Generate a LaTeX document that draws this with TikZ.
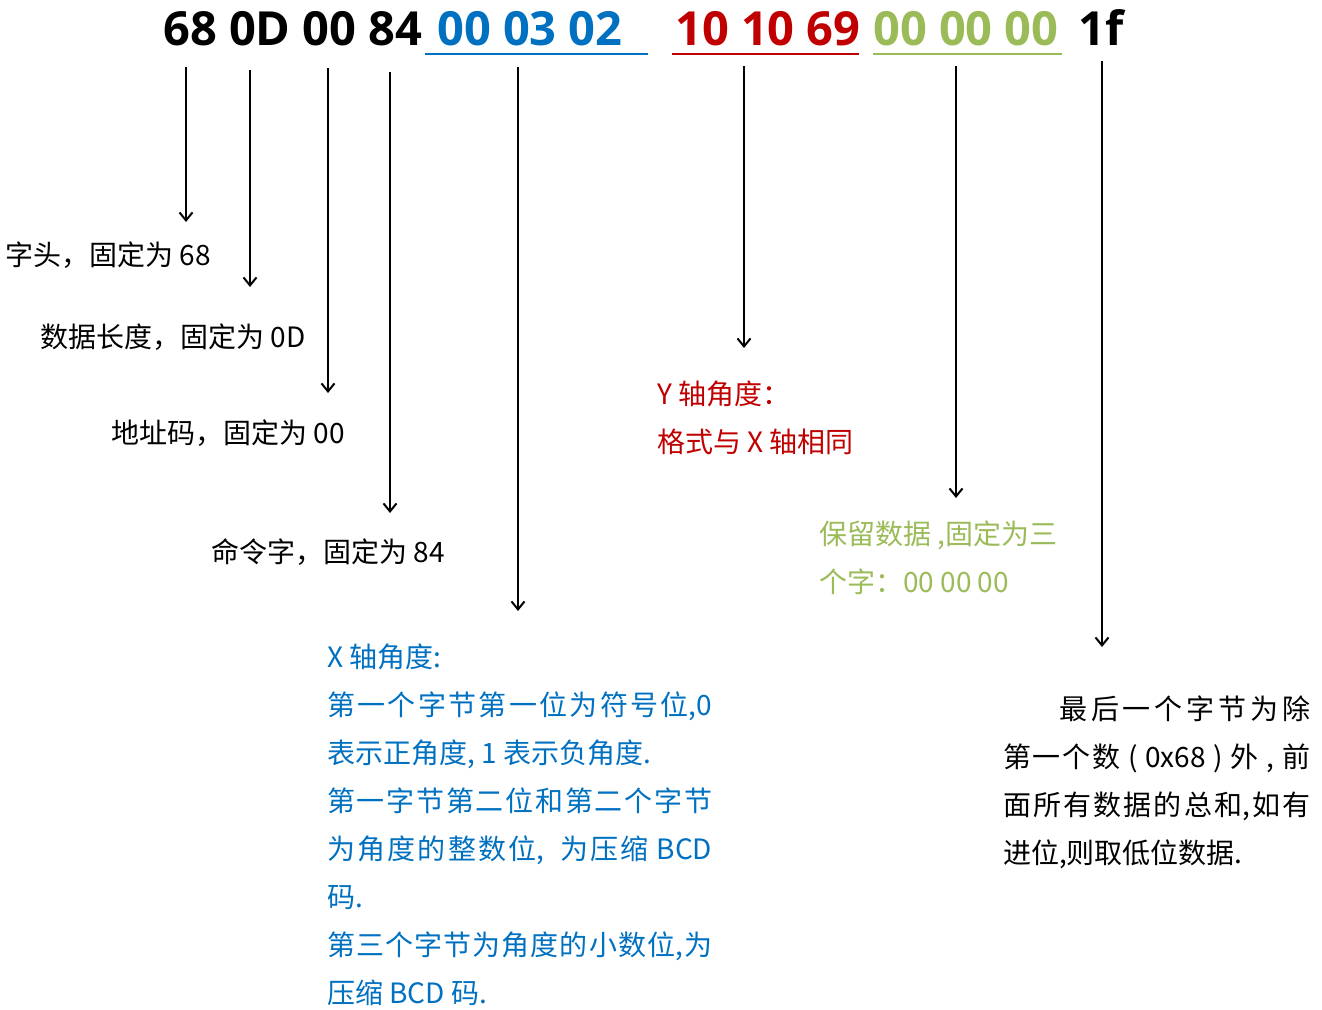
\documentclass[tikz,border=0pt]{standalone}
\usepackage{fontspec}
\setmainfont{Noto Sans CJK SC}
\newfontfamily\hdrfont{Open Sans}
\usetikzlibrary{arrows.meta}
\XeTeXlinebreaklocale "zh"
\XeTeXlinebreakskip=0pt plus 4pt minus 0.5pt
\definecolor{xblue}{HTML}{0070C0}
\definecolor{yred}{HTML}{C00000}
\definecolor{rgreen}{HTML}{9BBB59}
\tikzset{
  hdr/.style={inner sep=0pt, anchor=base west, font=\hdrfont\fontsize{47}{56}\selectfont\bfseries},
  lbl/.style={inner sep=0pt, anchor=base west, font=\fontsize{28}{48}\selectfont},
  arr/.style={line width=2pt, -{Straight Barb[length=8pt,width=13pt]}},
  uline/.style={line width=2pt},
}
\begin{document}
\begin{tikzpicture}[x=1pt,y=-1pt]
\useasboundingbox (0,0) rectangle (1322,1009);
% header
\node[hdr] (hfix) at (163,45) {68 0D 00 84};
\node[hdr,text=xblue] (hx) at (437,45) {00 03 02};
\node[hdr,text=yred] (hy) at (675,45) {10 10 69};
\node[hdr,text=rgreen] (hr) at (873,45) {00 00 00};
\node[hdr] (hsum) at (1078,45) {1f};
\draw[uline,draw=xblue] (425,54) -- (648,54);
\draw[uline,draw=yred] (672,54) -- (859,54);
\draw[uline,draw=rgreen] (873,54) -- (1062,54);
% arrow coordinates
\coordinate (a1s) at (186,67);  \coordinate (a1e) at (186,222);
\coordinate (a2s) at (250,70);  \coordinate (a2e) at (250,287);
\coordinate (a3s) at (328,68);  \coordinate (a3e) at (328,393);
\coordinate (a4s) at (390,72);  \coordinate (a4e) at (390,513);
\coordinate (a5s) at (518,67);  \coordinate (a5e) at (518,611);
\coordinate (a6s) at (744,66);  \coordinate (a6e) at (744,348);
\coordinate (a7s) at (956,66);  \coordinate (a7e) at (956,498);
\coordinate (a8s) at (1102,61); \coordinate (a8e) at (1102,647);
\foreach \i in {1,...,8} \draw[arr] (a\i s) -- (a\i e);
% labels
\node[lbl] (l1) at (5,265) {字头，固定为 68};
\node[lbl] (l2) at (40,347) {数据长度，固定为 0D};
\node[lbl] (l3) at (111,443) {地址码，固定为 00};
\node[lbl] (l4) at (211,562) {命令字，固定为 84};
\node[lbl,text=yred] (y1) at (657,404) {Y 轴角度：};
\node[lbl,text=yred] (y2) at (657,452) {格式与 X 轴相同};
\node[lbl,text=rgreen] (g1) at (819,544) {保留数据 ,固定为三};
\node[lbl,text=rgreen] (g2) at (819,592) {个字：00 00 00};
\node[lbl,text=xblue,text width=385pt,align=justify] (xb) at (327,667) {X 轴角度:\\第一个字节第一位为符号位,0\linebreak 表示正角度, 1 表示负角度.\\第一字节第二位和第二个字节\linebreak 为角度的整数位,\ \ 为压缩 BCD\linebreak 码.\\第三个字节为角度的小数位,为\linebreak 压缩 BCD 码.};
\node[lbl,text width=307pt,align=justify] (sum) at (1003,719) {\hspace*{56pt}最后一个字节为除\linebreak 第一个数 ( 0x68 ) 外 , 前\linebreak 面所有数据的总和,如有\linebreak 进位,则取低位数据.};
\end{tikzpicture}
\end{document}
